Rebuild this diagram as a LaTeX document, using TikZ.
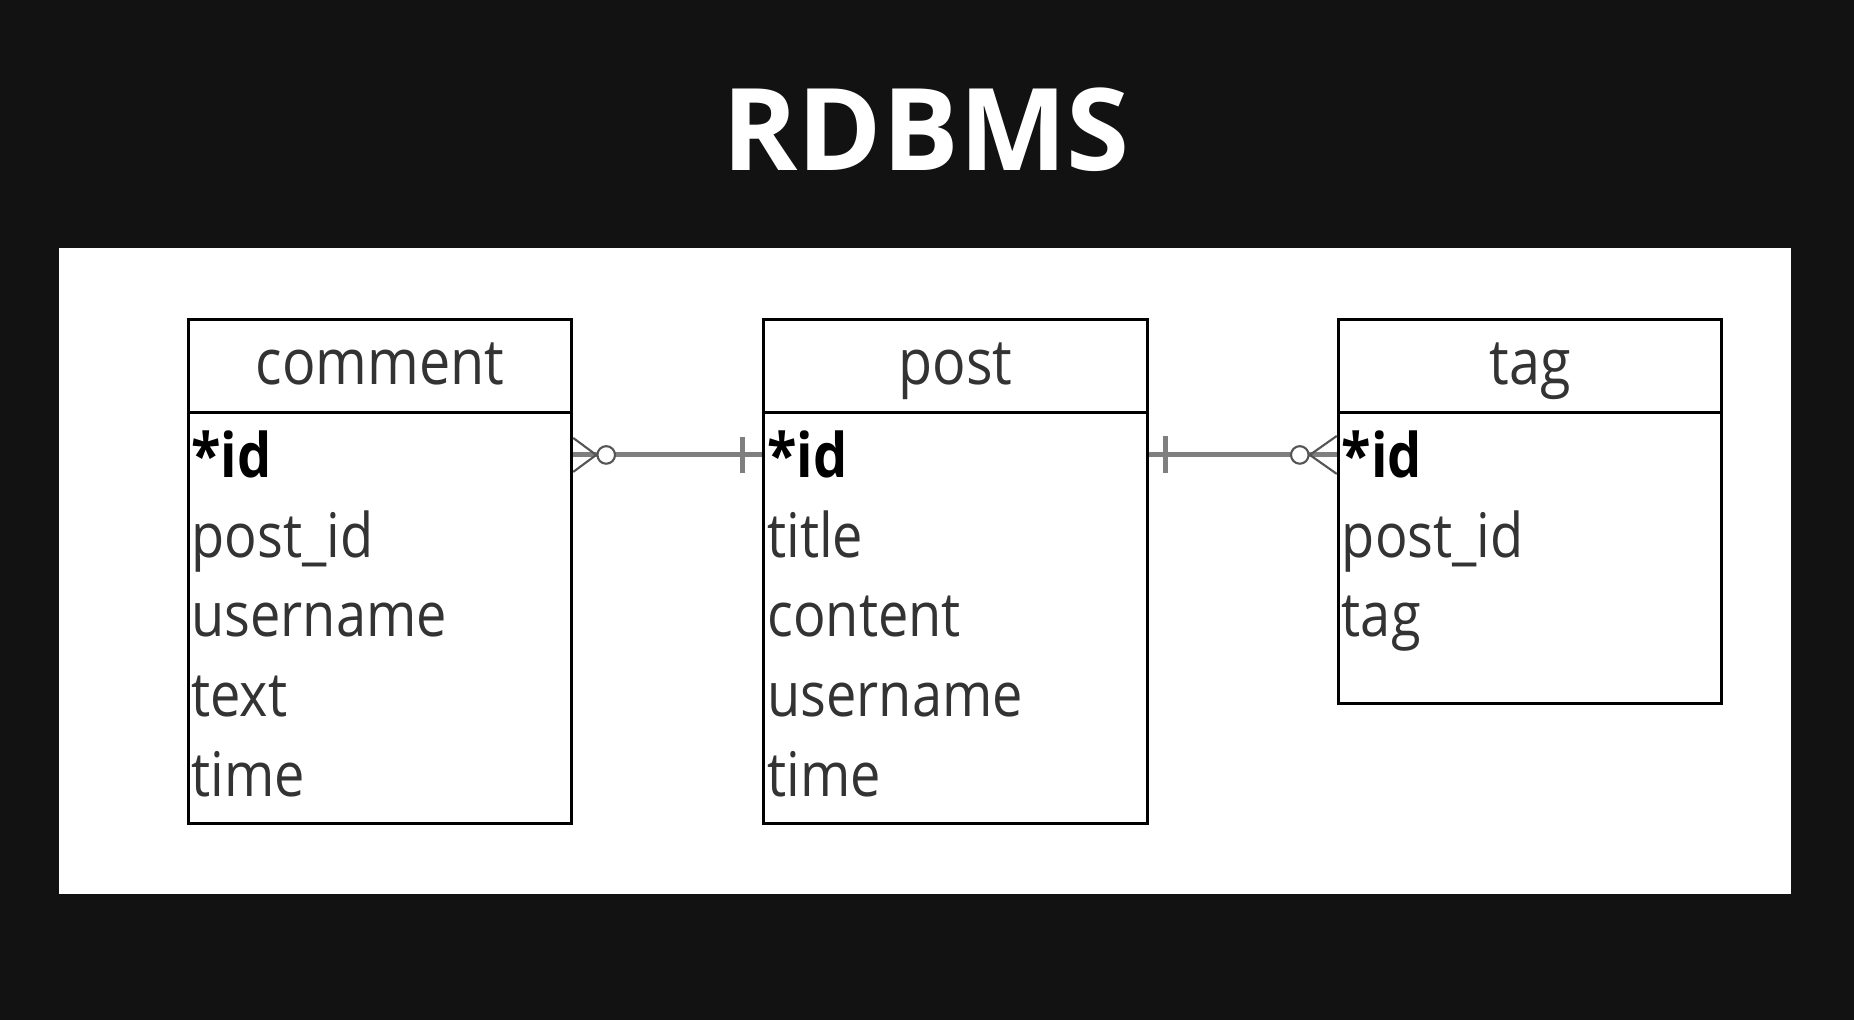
\documentclass[tikz,border=0pt]{standalone}
\usepackage{fontspec}
\setmainfont{Open Sans}
\newfontfamily\erfont[FakeStretch=0.88]{Open Sans}
\usetikzlibrary{calc}
\definecolor{bgdark}{HTML}{121212}
\definecolor{txtgray}{HTML}{333333}
\definecolor{relgray}{HTML}{7F7F7F}
\definecolor{footgray}{HTML}{555555}

\begin{document}
\begin{tikzpicture}[x=0.02cm, y=-0.02cm,
	tblhead/.style={draw, rectangle, line width=1.7pt, fill=white, minimum width=7.67cm, minimum height=1.874cm, inner sep=0pt, text height=27pt, text depth=5.4pt, font=\erfont\fontsize{36}{43}\selectfont, text=txtgray},
	tblbody/.style={draw, rectangle, line width=1.7pt, fill=white, minimum width=7.67cm, inner sep=0pt},
	fld/.style={anchor=base west, inner sep=0pt, font=\erfont\fontsize{35}{42}\selectfont, text=txtgray},
	keyfld/.style={fld, font=\erfont\bfseries\fontsize{35}{42}\selectfont, text=black},
	rel/.style={line width=2.8pt, draw=relgray},
	crow/.style={line width=1.2pt, draw=footgray}]
				\fill[bgdark] (0,0) rectangle (1854,1020);
				\useasboundingbox (0,0) rectangle (1854,1020);
				\fill[white] (59,248) rectangle (1791,894);
				
				\node[font=\bfseries\fontsize{65}{78}\selectfont, text=white] (title) at (926, 130) {RDBMS};
				
				% comment table
				\node[tblhead] (chead) at (380, 366) {comment};
				\node[tblbody, minimum height=8.226cm] (cbody) at (380, 618.35) {};
				\node[keyfld] (cid) at (191, 478) {*id};
				\node[fld] (cpost) at (191, 557.5) {post\_id};
				\node[fld] (cuser) at (191, 637) {username};
				\node[fld] (ctext) at (191, 716.5) {text};
				\node[fld] (ctime) at (191, 796) {time};
				
				% post table
				\node[tblhead] (phead) at (955.4, 366) {post};
				\node[tblbody, minimum height=8.226cm] (pbody) at (955.4, 618.35) {};
				\node[keyfld] (pid) at (767, 478) {*id};
				\node[fld] (ptitle) at (767, 557.5) {title};
				\node[fld] (pcontent) at (767, 637) {content};
				\node[fld] (puser) at (767, 716.5) {username};
				\node[fld] (ptime) at (767, 796) {time};
				
				% tag table
				\node[tblhead] (thead) at (1530, 366) {tag};
				\node[tblbody, minimum height=5.816cm] (tbody) at (1530, 558.1) {};
				\node[keyfld] (tid) at (1341.5, 478) {*id};
				\node[fld] (tpost) at (1341.5, 557.5) {post\_id};
				\node[fld] (ttag) at (1341.5, 637) {tag};
				
				% relations
				\coordinate (cend) at (cbody.east |- cid);
				\coordinate (pwest) at (pbody.west |- pid);
				\coordinate (peast) at (pbody.east |- pid);
				\coordinate (tend) at (tbody.west |- tid);
				
				\draw[rel] (cend) -- (pwest);
				\draw[rel] (pwest) ++(-20,-18) -- ++(0,36);
				\draw[crow] (cend) ++(0,-17) -- ++(23,17) -- ++(-23,17);
				\draw[crow, fill=white] (cend) ++(33,0) circle (5pt);
				
				\draw[rel] (peast) -- (tend);
				\draw[rel] (peast) ++(17,-19) -- ++(0,37);
				\draw[crow] (tend) ++(0,-19) -- ++(-27,19) -- ++(27,19);
				\draw[crow, fill=white] (tend) ++(-37,0) circle (5pt);
			\end{tikzpicture}
\end{document}
